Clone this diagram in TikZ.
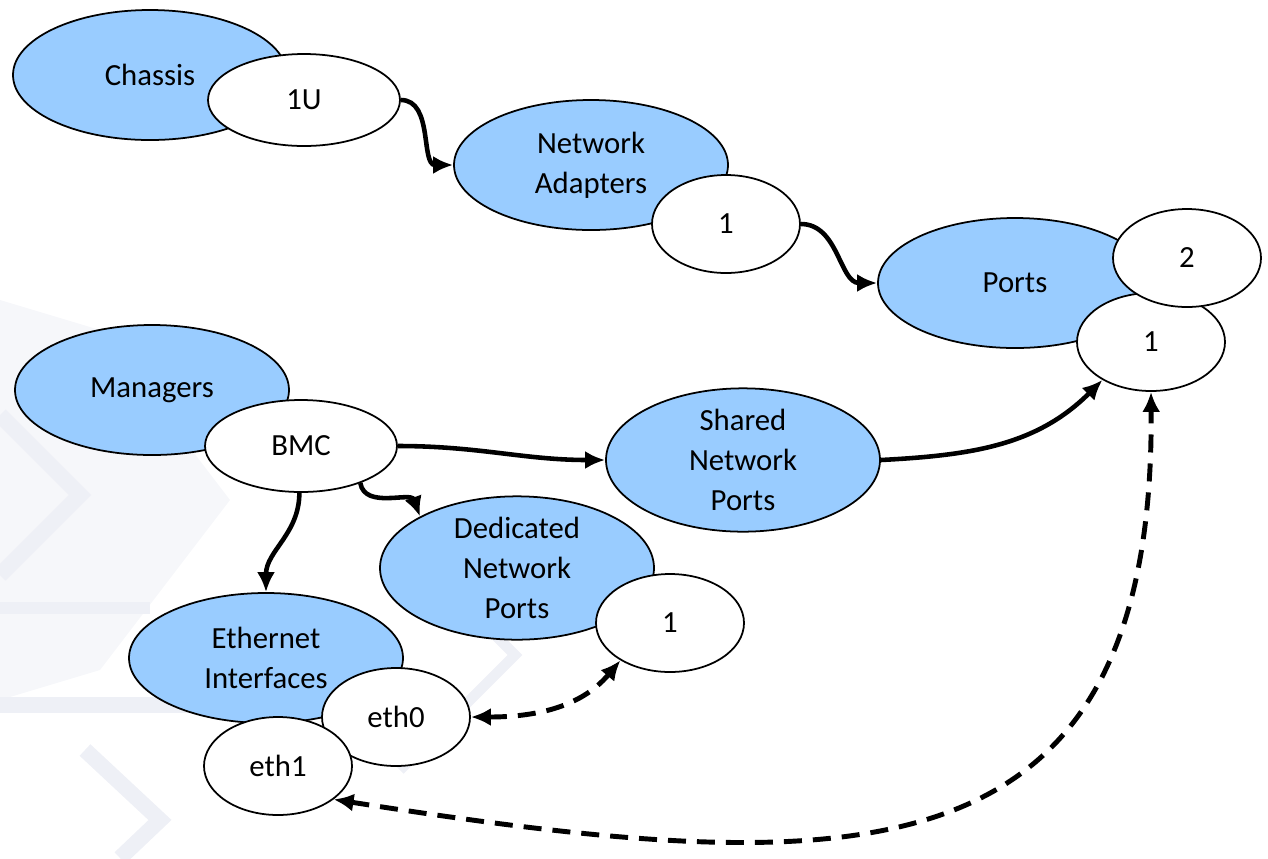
\documentclass[tikz,border=0pt]{standalone}
\usepackage{fontspec}
\setmainfont{Carlito}
\usepackage{xcolor}
\usepackage{tikz}
\usetikzlibrary{shapes,arrows,positioning,calc,arrows.meta}

\definecolor{resblue}{RGB}{153,204,255}
\definecolor{wmark}{RGB}{238,240,246}
\definecolor{wmlight}{RGB}{246,247,250}

\begin{document}
\begin{tikzpicture}[
    res/.style={ellipse, draw, line width=1pt, fill=resblue, inner sep=0pt,
        minimum width=5.48cm, minimum height=2.6cm, align=center,
        font=\fontsize{17.5}{22.7}\selectfont},
    inst/.style={ellipse, draw, line width=1pt, fill=white, inner sep=0pt,
        minimum width=2.96cm, minimum height=1.96cm,
        font=\fontsize{17.5}{22.7}\selectfont},
    link/.style={line width=2.6pt, -{Latex[length=4mm,width=3.6mm]}},
    ref/.style={line width=2.8pt, dash pattern=on 3.6mm off 2.2mm,
        {Latex[length=4mm,width=3.6mm]}-{Latex[length=4mm,width=3.6mm]}}
]
    \useasboundingbox (0,0) rectangle (25.36,-17.16);

    % faint background chevrons
    \fill[wmlight] (0,-6) -- (2,-6.6) -- (4.6,-10) -- (2,-13.4) -- (0,-14) -- cycle;
    \draw[wmark, line width=9pt] (0,-8.3) -- (1.6,-9.9) -- (0,-11.5);
    \draw[wmark, line width=7pt] (0,-12.16) -- (3,-12.16);
    \draw[wmark, line width=9pt] (0,-14.1) -- (5.2,-14.1);
    \draw[wmark, line width=9pt] (1.7,-15) -- (3.2,-16.4) -- (2.4,-17.16);
    \draw[wmark, line width=6pt] (8,-10.8) -- (10.3,-13.1) -- (8,-15.4);

    % Chassis
    \node[res] (chassis) at (3.0,-1.5) {Chassis};
    \node[inst, minimum width=3.84cm, minimum height=1.84cm] (chassis1) at (6.08,-2.0) {1U};

    % Network adapters
    \node[res] (netad) at (11.82,-3.3) {Network\\Adapters};
    \node[inst] (netad1) at (14.52,-4.48) {1};

    % Ports
    \node[res] (ports) at (20.3,-5.66) {Ports};
    \node[inst] (port1) at (23.02,-6.84) {1};
    \node[inst] (port2) at (23.74,-5.16) {2};

    % Managers
    \node[res] (mgr) at (3.04,-7.8) {Managers};
    \node[inst, minimum width=3.84cm, minimum height=1.84cm] (bmc) at (6.02,-8.92) {BMC};

    % Network ports of the BMC
    \node[res] (shared) at (14.86,-9.2) {Shared\\Network\\Ports};
    \node[res] (ded) at (10.34,-11.36) {Dedicated\\Network\\Ports};
    \node[inst] (ded1) at (13.4,-12.46) {1};

    % Ethernet interfaces
    \node[res] (eth) at (5.32,-13.16) {Ethernet\\Interfaces};
    \node[inst] (eth0) at (7.92,-14.34) {eth0};
    \node[inst] (eth1) at (5.56,-15.32) {eth1};

    % Links
    \draw[link] (chassis1.east) to[out=0,in=180] (netad.west);
    \draw[link] (netad1.east) to[out=0,in=180] (ports.west);
    \draw[link] (bmc.east) to[out=0,in=180] (shared.west);
    \draw[link] (bmc.-32) to[out=-80,in=110] (ded.152);
    \draw[link] (bmc.-92) to[out=-90,in=90] (eth.north);
    \draw[link] (shared.east) to[out=3,in=-135] (port1.-142);

    % References
    \draw[ref] (eth0.east) to[out=0,in=-130] (ded1.-143);
    \draw[ref] (eth1.-31) .. controls (17,-17.6) and (23.1,-17.8) .. (port1.-90);
\end{tikzpicture}
\end{document}
